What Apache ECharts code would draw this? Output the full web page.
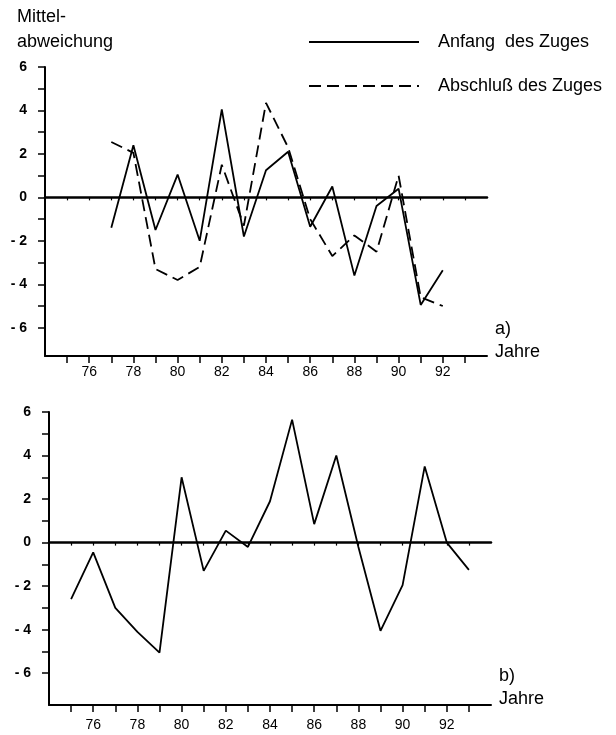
<!DOCTYPE html>
<html>
<head>
<meta charset="utf-8">
<script src="https://cdn.jsdelivr.net/npm/echarts@6.0.0/dist/echarts.min.js"></script>
<style>
  html, body { margin: 0; padding: 0; background: #fff; }
  #main { width: 616px; height: 735px; }
</style>
</head>
<body>
<div id="main"></div>
<script>
// panel a) years and the two series
const yearsA = [77, 78, 79, 80, 81, 82, 83, 84, 85, 86, 87, 88, 89, 90, 91, 92];
const anfang = [-1.4, 2.4, -1.5, 1.05, -2.0, 4.05, -1.8, 1.25, 2.1, -1.35, 0.5, -3.6, -0.4, 0.4, -4.95, -3.35];
const abschluss = [2.55, 2.05, -3.3, -3.8, -3.2, 1.5, -1.3, 4.35, 2.3, -1.0, -2.7, -1.75, -2.5, 1.0, -4.6, -5.0];

// panel b)
const yearsB = [75, 76, 77, 78, 79, 80, 81, 82, 83, 84, 85, 86, 87, 88, 89, 90, 91, 92, 93];
const panelB = [-2.6, -0.45, -3.0, -4.1, -5.05, 3.0, -1.3, 0.55, -0.2, 1.9, 5.65, 0.85, 4.0, -0.2, -4.05, -1.95, 3.5, 0.0, -1.25];

// ticks and labels
const yearTicks = [75, 76, 77, 78, 79, 80, 81, 82, 83, 84, 85, 86, 87, 88, 89, 90, 91, 92, 93];
const yearLabels = [76, 78, 80, 82, 84, 86, 88, 90, 92];
const valueTicks = [-6, -5, -4, -3, -2, -1, 0, 1, 2, 3, 4, 5, 6];
const valueLabels = [-6, -4, -2, 0, 2, 4, 6];

const font = '"Liberation Sans", Arial, sans-serif';
const black = '#000';

const bottomAxis = (grid, margin) => ({
  type: 'value', gridIndex: grid, min: 74, max: 94, position: 'bottom',
  axisLine: { onZero: false, lineStyle: { color: black, width: 2 } },
  axisTick: { customValues: yearTicks, length: 7, lineStyle: { color: black, width: 1.5 } },
  axisLabel: { customValues: yearLabels, margin: margin, color: black, fontSize: 14, fontFamily: font },
  splitLine: { show: false }
});

const zeroAxis = (grid) => ({
  type: 'value', gridIndex: grid, min: 74, max: 94, position: 'bottom',
  axisLine: { onZero: true, lineStyle: { color: black, width: 2.5 } },
  axisTick: { customValues: yearTicks, length: 3, lineStyle: { color: black, width: 1.2 } },
  axisLabel: { show: false },
  splitLine: { show: false }
});

const valueAxis = (grid, min) => ({
  type: 'value', gridIndex: grid, min: min, max: 6,
  axisLine: { show: true, onZero: false, lineStyle: { color: black, width: 2 } },
  axisTick: { show: true, customValues: valueTicks, length: 7, lineStyle: { color: black, width: 1.5 } },
  axisLabel: {
    customValues: valueLabels, margin: 18, color: black, fontSize: 14, fontWeight: 'bold', fontFamily: font,
    formatter: v => v < 0 ? '- ' + (-v) : '' + v
  },
  splitLine: { show: false }
});

const pairs = (xs, ys) => xs.map((x, i) => [x, ys[i]]);

const chart = echarts.init(document.getElementById('main'));
chart.setOption({
  animation: false,
  backgroundColor: '#fff',
  grid: [
    { left: 45, right: 129, top: 67, bottom: 379 },
    { left: 49, right: 125, top: 412, bottom: 30 }
  ],
  xAxis: [bottomAxis(0, 9), zeroAxis(0), bottomAxis(1, 13), zeroAxis(1)],
  yAxis: [valueAxis(0, -7.3), valueAxis(1, -7.46)],
  legend: {
    data: ['Anfang  des Zuges', 'Abschluß des Zuges'],
    orient: 'vertical', left: 308, top: 33, padding: 0,
    itemWidth: 110, itemHeight: 14, itemGap: 26,
    selectedMode: false,
    itemStyle: { opacity: 0 },
    textStyle: { fontSize: 18, color: black, fontFamily: font, padding: [0, 0, 0, 14] }
  },
  graphic: [
    { type: 'text', left: 17, top: 5, style: { text: 'Mittel-\nabweichung', font: '18px ' + font, fill: black, lineHeight: 25 } },
    { type: 'text', left: 495, top: 318, style: { text: 'a)\nJahre', font: '18px ' + font, fill: black, lineHeight: 23 } },
    { type: 'text', left: 499, top: 665, style: { text: 'b)\nJahre', font: '18px ' + font, fill: black, lineHeight: 23 } }
  ],
  series: [
    {
      name: 'Anfang  des Zuges', type: 'line', xAxisIndex: 0, yAxisIndex: 0,
      data: pairs(yearsA, anfang), symbol: 'none',
      lineStyle: { color: black, width: 1.8 }, itemStyle: { color: black }
    },
    {
      name: 'Abschluß des Zuges', type: 'line', xAxisIndex: 0, yAxisIndex: 0,
      data: pairs(yearsA, abschluss), symbol: 'none',
      lineStyle: { color: black, width: 1.8, type: [12, 6] }, itemStyle: { color: black }
    },
    {
      name: 'b', type: 'line', xAxisIndex: 2, yAxisIndex: 1,
      data: pairs(yearsB, panelB), symbol: 'none',
      lineStyle: { color: black, width: 1.8 }, itemStyle: { color: black }
    }
  ]
});
</script>
</body>
</html>
